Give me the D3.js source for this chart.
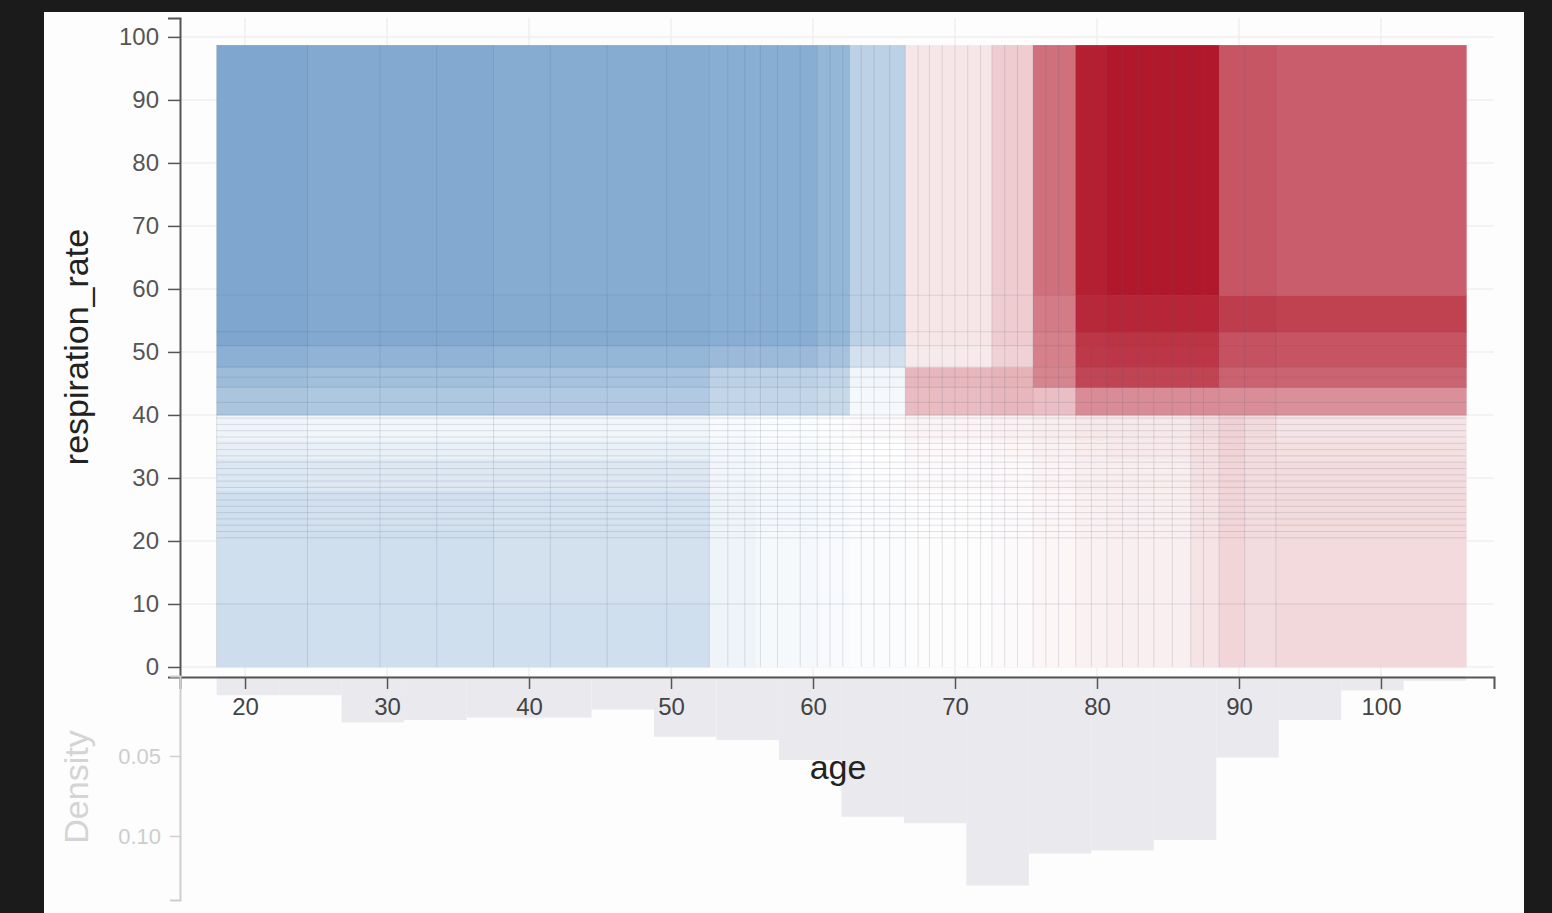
<!DOCTYPE html>
<html>
<head>
<meta charset="utf-8">
<script src="https://cdn.jsdelivr.net/npm/d3@7"></script>
<style>
  html, body { margin: 0; padding: 0; background: #1b1b1b; }
  svg { display: block; }
  text { font-family: "Liberation Sans", Arial, Helvetica, sans-serif; }
</style>
</head>
<body>
<svg id="chart" width="1552" height="913"></svg>
<script>
// ---- data -------------------------------------------------------------
// cell boundaries of the age x respiration_rate interaction surface
const ageEdges  = [18, 24.4, 37.5, 52.7, 56, 60.3, 62.6, 66.5, 72.6, 75.5, 78.5, 80.7, 86.6, 88.6, 90.4, 92.6, 106];
const rateEdges = [0, 10, 22, 28, 33, 36, 40, 44.4, 47.6, 51, 53.2, 59, 98.7];

// effect per cell, one row per rate band (lowest band first), one value per age band
const effectRows = [
  [-0.22,-0.21,-0.21,-0.07,-0.04,-0.03,-0.02, 0.01, 0.02, 0.04, 0.06, 0.07, 0.12, 0.18, 0.15, 0.17],
  [-0.21,-0.21,-0.20,-0.07,-0.04,-0.03,-0.02, 0.01, 0.02, 0.04, 0.06, 0.07, 0.12, 0.18, 0.15, 0.16],
  [-0.21,-0.20,-0.19,-0.07,-0.05,-0.03,-0.02, 0.01, 0.02, 0.04, 0.06, 0.07, 0.12, 0.18, 0.15, 0.16],
  [-0.16,-0.15,-0.15,-0.06,-0.04,-0.03,-0.01, 0.02, 0.03, 0.05, 0.07, 0.08, 0.13, 0.18, 0.15, 0.15],
  [-0.11,-0.10,-0.10,-0.05,-0.03,-0.02, 0.00, 0.03, 0.04, 0.06, 0.08, 0.09, 0.14, 0.19, 0.15, 0.14],
  [-0.07,-0.06,-0.06,-0.03,-0.02,-0.01, 0.02, 0.05, 0.06, 0.08, 0.10, 0.10, 0.15, 0.20, 0.16, 0.12],
  [-0.38,-0.36,-0.35,-0.27,-0.27,-0.25,-0.04, 0.29, 0.31, 0.28, 0.50, 0.50, 0.50, 0.49, 0.49, 0.48],
  [-0.44,-0.42,-0.40,-0.30,-0.30,-0.28,-0.06, 0.31, 0.33, 0.53, 0.80, 0.81, 0.81, 0.68, 0.68, 0.67],
  [-0.52,-0.50,-0.48,-0.45,-0.45,-0.40,-0.20, 0.09, 0.20, 0.55, 0.86, 0.87, 0.87, 0.75, 0.75, 0.74],
  [-0.58,-0.56,-0.55,-0.53,-0.53,-0.48,-0.30, 0.11, 0.22, 0.55, 0.87, 0.88, 0.88, 0.75, 0.75, 0.74],
  [-0.58,-0.56,-0.55,-0.53,-0.53,-0.48,-0.30, 0.11, 0.22, 0.57, 0.93, 0.94, 0.94, 0.84, 0.84, 0.82],
  [-0.58,-0.56,-0.54,-0.53,-0.53,-0.48,-0.30, 0.11, 0.22, 0.62, 0.97, 1.00, 1.00, 0.73, 0.73, 0.70]
];

// split thresholds of the underlying trees
const ageSplits = [24.4, 29.5, 33.5, 37.5, 41.5, 45.5, 49.7, 52.7, 54.0, 55.2, 56.3, 57.5, 59.1, 60.3,
  61.2, 62.1, 63.4, 64.3, 65.4, 66.5, 67.4, 68.2, 69.1, 70.0, 70.9, 71.8, 72.6, 73.5, 74.4, 75.5,
  76.4, 77.3, 78.5, 79.6, 80.7, 81.8, 82.9, 84.0, 85.3, 86.6, 87.5, 88.6, 90.4, 92.6];
const rateSplits = [10, 20.5, 21.5, 22.5, 23.5, 24.5, 25.5, 26.5, 27.5, 28.5, 29.5, 30.5, 31.5, 32.5,
  33.5, 34.5, 35.5, 36.5, 37.5, 38.5, 39.5, 40, 42, 44.4, 46, 47.6, 51, 53.2, 59];

// age histogram
const ageBins = [18, 22.4, 26.8, 31.2, 35.6, 40, 44.4, 48.8, 53.2, 57.6, 62, 66.4, 70.8, 75.2, 79.6, 84, 88.4, 92.8, 97.2, 101.6, 106];
const density = [0.012, 0.012, 0.029, 0.0275, 0.026, 0.026, 0.021, 0.038, 0.040, 0.0525, 0.088, 0.092,
  0.131, 0.111, 0.109, 0.1025, 0.051, 0.0275, 0.009, 0.003];

const xTicks = [20, 30, 40, 50, 60, 70, 80, 90, 100];
const yTicks = [0, 10, 20, 30, 40, 50, 60, 70, 80, 90, 100];
const densityTicks = [0.05, 0.10];

// ---- layout -----------------------------------------------------------
const svg = d3.select("#chart");
const W = 1552, H = 913;

svg.append("rect").attr("width", W).attr("height", H).attr("fill", "#1b1b1b");
svg.append("rect").attr("x", 44).attr("y", 12).attr("width", 1480).attr("height", H - 12).attr("fill", "#fdfdfd");

const x = d3.scaleLinear().domain([15.42, 107.96]).range([180, 1494]);
const y = d3.scaleLinear().domain([-1.59, 103]).range([677, 18]);
const yd = d3.scaleLinear().domain([0, 0.14]).range([676, 900]);
const color = d3.scaleLinear().domain([-1, 0, 1]).range(["#2166ac", "#ffffff", "#b2182b"]);

// grid
const grid = svg.append("g").attr("stroke", "#efefef").attr("stroke-width", 1.5);
grid.selectAll("line.h").data(yTicks).join("line")
  .attr("x1", x.range()[0]).attr("x2", x.range()[1])
  .attr("y1", d => y(d)).attr("y2", d => y(d));
grid.selectAll("line.v").data(xTicks).join("line")
  .attr("y1", y.range()[1]).attr("y2", y.range()[0])
  .attr("x1", d => x(d)).attr("x2", d => x(d));

// histogram hanging below the axis
svg.append("g").selectAll("rect").data(density).join("rect")
  .attr("x", (d, i) => x(ageBins[i]))
  .attr("width", (d, i) => x(ageBins[i + 1]) - x(ageBins[i]))
  .attr("y", yd(0))
  .attr("height", d => yd(d) - yd(0))
  .attr("fill", "#eaeaee");

// interaction cells
const cells = [];
effectRows.forEach((row, r) => row.forEach((v, c) => cells.push({r, c, v})));
svg.append("g").selectAll("rect").data(cells).join("rect")
  .attr("x", d => x(ageEdges[d.c]))
  .attr("width", d => x(ageEdges[d.c + 1]) - x(ageEdges[d.c]) + 0.5)
  .attr("y", d => y(rateEdges[d.r + 1]))
  .attr("height", d => y(rateEdges[d.r]) - y(rateEdges[d.r + 1]) + 0.5)
  .attr("fill", d => color(d.v));

// split lines
const splits = svg.append("g").attr("stroke", "#4f5d78").attr("stroke-opacity", 0.17).attr("stroke-width", 1);
const aMin = ageEdges[0], aMax = ageEdges[ageEdges.length - 1];
const rMin = rateEdges[0], rMax = rateEdges[rateEdges.length - 1];
splits.selectAll("line.v").data([aMin, ...ageSplits]).join("line")
  .attr("x1", d => x(d)).attr("x2", d => x(d))
  .attr("y1", y(rMin)).attr("y2", y(rMax));
splits.selectAll("line.h").data(rateSplits).join("line")
  .attr("y1", d => y(d)).attr("y2", d => y(d))
  .attr("x1", x(aMin)).attr("x2", x(aMax));

// axes
function styleAxis(g, col, textCol, size) {
  g.select(".domain").attr("stroke", col).attr("stroke-width", 2);
  g.selectAll(".tick line").attr("stroke", col).attr("stroke-width", 1.5);
  g.selectAll(".tick text").attr("fill", textCol).attr("font-size", size)
    .attr("font-family", "'Liberation Sans', Arial, sans-serif");
}

const gx = svg.append("g").attr("transform", `translate(0,${y.range()[0]})`)
  .call(d3.axisBottom(x).tickValues(xTicks).tickSize(12).tickPadding(9).tickFormat(d3.format("d")));
styleAxis(gx, "#555", "#444", 24);

const gy = svg.append("g").attr("transform", `translate(${x.range()[0]},0)`)
  .call(d3.axisLeft(y).tickValues(yTicks).tickSize(12).tickPadding(9).tickFormat(d3.format("d")));
styleAxis(gy, "#555", "#555", 24);

const gd = svg.append("g").attr("transform", `translate(${x.range()[0]},0)`)
  .call(d3.axisLeft(yd).tickValues(densityTicks).tickSize(10).tickPadding(9).tickFormat(d3.format(".2f")));
styleAxis(gd, "#cfcfcf", "#cdcdcd", 22);

// titles
svg.append("text").attr("x", 838).attr("y", 779).attr("text-anchor", "middle")
  .attr("font-size", 34).attr("fill", "#222").text("age");
svg.append("text").attr("transform", "translate(88,347) rotate(-90)").attr("text-anchor", "middle")
  .attr("font-size", 34).attr("fill", "#222").text("respiration_rate");
svg.append("text").attr("transform", "translate(88,787) rotate(-90)").attr("text-anchor", "middle")
  .attr("font-size", 34).attr("fill", "#d4d4d4").text("Density");
</script>
</body>
</html>
